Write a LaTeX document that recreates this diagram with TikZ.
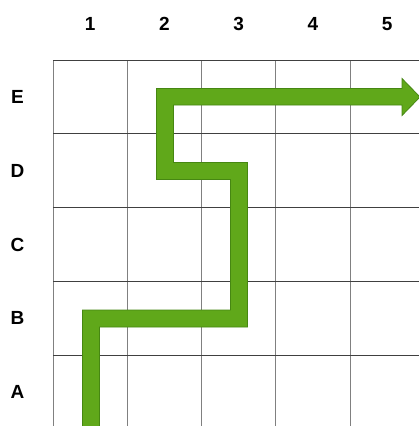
\documentclass[tikz,border=0pt]{standalone}
\usepackage{fontspec}
\setmainfont{Liberation Sans}
\usetikzlibrary{positioning}
\definecolor{pathgreen}{RGB}{96,168,26}
\definecolor{pathedge}{RGB}{70,135,18}
\begin{document}
\begin{tikzpicture}[x=1pt, y=-1pt,
  lbl/.style={font=\fontsize{19}{22}\selectfont\bfseries, inner sep=0pt},
  vline/.style={draw=black!50, line width=1pt},
  hline/.style={draw=black!75, line width=1pt},
  route/.style={fill=pathgreen, draw=pathedge, line width=0.8pt, line join=miter}]
\clip (0,0) rectangle (419,426);
\fill[white] (0,0) rectangle (419,426);
% grid
\foreach \i in {0,...,5} \draw[vline] (53+74.25*\i,60) -- (53+74.25*\i,430);
\foreach \j in {0,...,5} \draw[hline] (53,60+73.8*\j) -- (430,60+73.8*\j);
% column labels
\foreach \c [count=\i] in {1,...,5}
  \node[lbl] (col\c) at (15.9+74.25*\i,24) {\c};
% row labels
\foreach \r [count=\j] in {E,D,C,B,A}
  \node[lbl] (row\r) at (17.5,23.1+73.8*\j) {\r};
% route A1 -> B1 -> B3 -> D3 -> D2 -> E2 -> off to the right
\draw[route] (82.5,430) -- (82.5,310) -- (230.5,310) -- (230.5,179.5)
  -- (156.5,179.5) -- (156.5,88.5) -- (402,88.5) -- (402,78.5)
  -- (420,97) -- (402,115.5) -- (402,105) -- (173.5,105) -- (173.5,162.5)
  -- (247.5,162.5) -- (247.5,327) -- (99.5,327) -- (99.5,430) -- cycle;
\end{tikzpicture}
\end{document}
